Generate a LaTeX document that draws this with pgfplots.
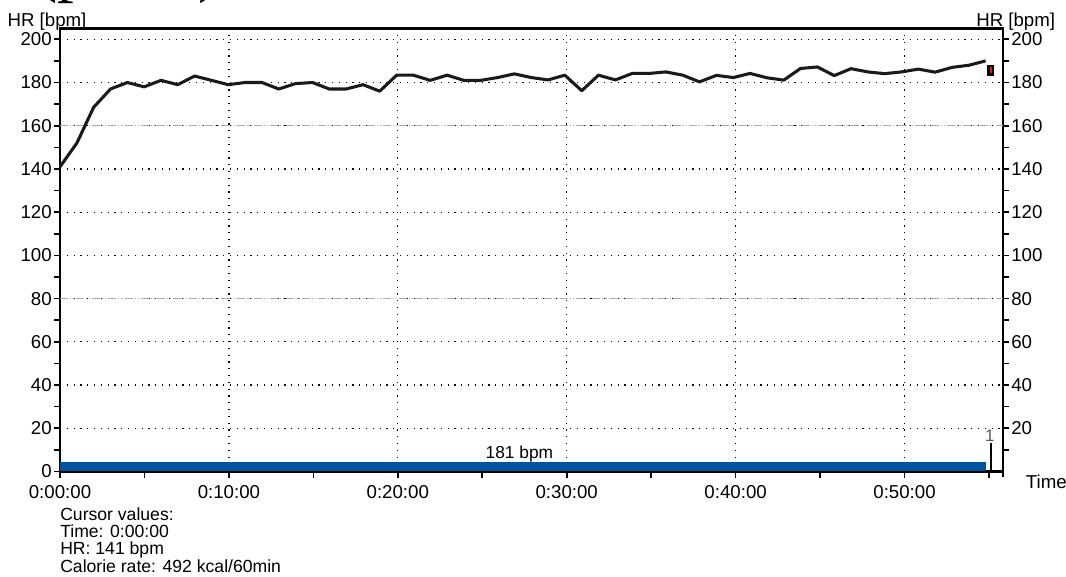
\documentclass[border=0pt]{standalone}
\usepackage{pgfplots}
\pgfplotsset{compat=1.18}
\usepackage{pgfplotstable}
\usepackage{fontspec}
\setmainfont{Liberation Sans}
\newfontfamily\titleserif{Liberation Serif}

\definecolor{lapblue}{HTML}{00549F}
\definecolor{hrline}{HTML}{1A1A1A}
\definecolor{lapmark}{HTML}{D42020}

% heart rate, one sample per minute (time in minutes, HR in bpm)
\pgfplotstableread{
t hr
0.00 141
1.00 152
1.99 168.5
2.99 177
3.99 180
4.98 178
5.98 181
6.97 179
7.97 183
8.97 181
9.96 179
10.96 180
11.96 180
12.95 177
13.95 179.5
14.95 180
15.94 177
16.94 177
17.94 179
18.93 176
19.93 183.4
20.92 183.4
21.92 181
22.92 183.4
23.91 181
24.91 181
25.91 182.3
26.90 184
27.90 182.3
28.90 181.2
29.89 183.4
30.89 176.2
31.88 183.4
32.88 181.2
33.88 184.2
34.87 184.2
35.87 184.9
36.87 183.4
37.86 180.3
38.86 183.3
39.86 182.3
40.85 184.2
41.85 182.2
42.85 181.1
43.84 186.5
44.84 187.2
45.84 183.2
46.83 186.4
47.83 184.9
48.82 184.1
49.82 184.9
50.82 186.2
51.81 184.8
52.81 187
53.81 188
54.80 190
}\hrdata

\pgfplotsset{
  hrframe/.style={
    at={(0,0)}, anchor=south west,
    scale only axis, width=707.25pt, height=332.25pt,
    xmin=0, xmax=55.83, ymin=0, ymax=205,
    tick align=outside,
    major tick length=4.5pt, minor tick length=4.5pt,
    every tick/.style={black, line width=1.2pt},
    axis line style={black, line width=2.2pt},
    tick label style={font=\fontsize{14}{14}\selectfont, inner sep=1.5pt},
    /pgf/number format/assume math mode=true,
  }
}

\begin{document}
\begin{tikzpicture}
\path[use as bounding box] (-45pt,-79.125pt) rectangle (754.5pt,353.625pt);

% right-hand HR scale
\begin{axis}[hrframe,
  axis x line=none, axis y line*=right,
  ytick={20,40,...,200}, minor ytick={10,30,...,190},
  ytick pos=right, yticklabel pos=right]
\end{axis}

\begin{axis}[hrframe,
  ytick={0,20,...,200}, minor ytick={10,30,...,190},
  xtick={0,10,...,50},
  xticklabels={0:00:00,0:10:00,0:20:00,0:30:00,0:40:00,0:50:00},
  minor xtick={5,15,...,55},
  xtick pos=left, ytick pos=left,
  xticklabel style={yshift=-4pt},
  grid=major,
  major grid style={black, line width=0.9pt, dash pattern=on 0.9pt off 4.2pt},
  clip=false]

  % dash-dotted reference lines
  \draw[gray!65, line width=0.8pt, dash pattern=on 6pt off 1.5pt on 0.8pt off 1.5pt on 0.8pt off 1.5pt]
    (axis cs:0,160) -- (axis cs:55.83,160);
  \draw[gray!65, line width=0.8pt, dash pattern=on 6pt off 1.5pt on 0.8pt off 1.5pt on 0.8pt off 1.5pt]
    (axis cs:0,80) -- (axis cs:55.83,80);

  % right axis line runs a little below the time axis
  \draw[black, line width=1.2pt] (rel axis cs:1,0) -- ++(0,-4.5pt);

  % lap bar
  \addplot[fill=lapblue, draw=none] coordinates {(0,4.2) (54.85,4.2)} \closedcycle;
  \node[anchor=base, inner sep=0, font=\fontsize{13}{13}\selectfont]
    at (axis cs:27.2,5.8) {181 bpm};

  % lap marker
  \addplot[black, line width=1.5pt] coordinates {(55.1,0) (55.1,13.2)};
  \node[anchor=south, inner sep=0.8pt, text=gray!70!black, font=\fontsize{12.5}{12.5}\selectfont]
    at (axis cs:55.05,13.2) {1};

  % heart rate curve
  \addplot[hrline, line width=2.3pt, line join=round] table[x=t, y=hr] {\hrdata};

  % current value marker
  \addplot[only marks, mark=square*, mark size=3.2pt,
    mark options={draw=black, fill=lapmark, line width=1.8pt, xscale=0.54}]
    coordinates {(55.1,185.6)};

  % axis captions
  \node[anchor=base west, inner sep=0, xshift=-39.5pt, yshift=1.2pt,
    font=\fontsize{14}{14}\selectfont] at (rel axis cs:0,1) {HR [bpm]};
  \node[anchor=base west, inner sep=0, xshift=-20.25pt, yshift=1.2pt,
    font=\fontsize{14}{14}\selectfont] at (rel axis cs:1,1) {HR [bpm]};
  \node[anchor=base west, inner sep=0, xshift=17pt, yshift=-12.4pt,
    font=\fontsize{14}{14}\selectfont] at (rel axis cs:1,0) {Time};

  % cursor readout
  \node[anchor=base west, inner sep=0, yshift=-36.4pt, font=\fontsize{13.2}{13.2}\selectfont]
    at (rel axis cs:0,0) {Cursor values:};
  \node[anchor=base west, inner sep=0, yshift=-49.5pt, font=\fontsize{13.2}{13.2}\selectfont]
    at (rel axis cs:0,0) {Time: 0:00:00};
  \node[anchor=base west, inner sep=0, yshift=-62.6pt, font=\fontsize{13.2}{13.2}\selectfont]
    at (rel axis cs:0,0) {HR: 141 bpm};
  \node[anchor=base west, inner sep=0, yshift=-75.7pt, font=\fontsize{13.2}{13.2}\selectfont]
    at (rel axis cs:0,0) {Calorie rate: 492 kcal/60min};

  % page heading above the chart
  \node[anchor=base west, inner sep=0, xshift=-18.4pt, yshift=29.0pt,
    font=\titleserif\fontsize{50}{50}\selectfont] at (rel axis cs:0,1) {(pulse)};
\end{axis}
\end{tikzpicture}
\end{document}
